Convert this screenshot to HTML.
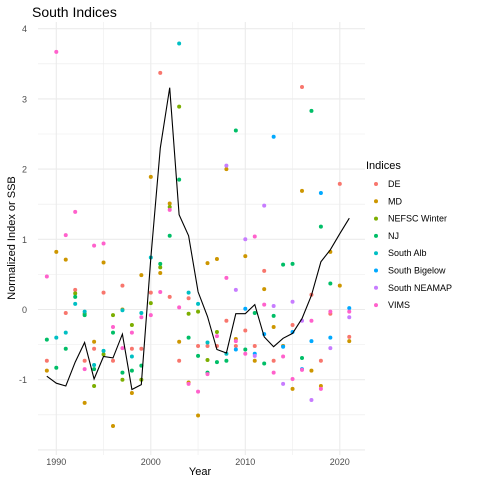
<!DOCTYPE html>
<html><head><meta charset="utf-8"><style>
body{margin:0;background:#fff;font-family:"Liberation Sans",sans-serif}
svg text{font-family:"Liberation Sans",sans-serif}
</style></head><body>
<svg id="c" width="480" height="480" xmlns="http://www.w3.org/2000/svg"></svg>
<script>
const seriesNames=["DE","MD","NEFSC Winter","NJ","South Alb","South Bigelow","South NEAMAP","VIMS"];
const seriesColors=["#F8766D","#CD9600","#7CAE00","#00BE67","#00BFC4","#00A9FF","#C77CFF","#FF61CC"];
const deData=[[1989,-0.73],[1991,-0.05],[1992,0.28],[1993,-0.73],[1994,-0.56],[1995,0.24],[1996,-0.73],[1997,0.34],[1998,-0.56],[1999,-0.56],[2000,0.24],[2001,3.37],[2002,0.18],[2003,-0.73],[2004,0.16],[2005,-0.52],[2006,-0.52],[2007,-0.52],[2008,-0.16],[2009,-0.52],[2010,-0.30],[2011,-0.52],[2012,0.55],[2013,-0.73],[2014,-0.52],[2015,-0.22],[2016,3.17],[2017,0.21],[2018,-0.73],[2019,-0.06],[2020,1.79],[2021,-0.39]];
const mdData=[[1989,-0.87],[1990,0.82],[1991,0.71],[1993,-1.33],[1994,-0.46],[1995,0.67],[1996,-1.66],[1997,0.00],[1998,-1.19],[1999,0.49],[2000,1.89],[2001,0.52],[2002,1.51],[2003,-0.46],[2004,-1.04],[2005,-1.51],[2006,0.66],[2007,0.72],[2008,2.00],[2009,-0.42],[2010,0.76],[2011,-0.73],[2012,0.29],[2013,-0.25],[2014,-0.52],[2015,-1.13],[2016,1.69],[2017,-0.87],[2018,-1.09],[2019,0.82],[2020,0.34],[2021,-0.45]];
const nefscData=[[1992,0.23],[1993,-0.06],[1994,-1.09],[1995,-0.64],[1996,-0.08],[1997,-1.00],[1998,-0.22],[1999,-1.00],[2000,0.09],[2001,0.60],[2002,1.46],[2003,2.89],[2004,-0.06],[2005,-0.03],[2006,-0.72],[2007,-0.32]];
const njData=[[1989,-0.43],[1990,-0.83],[1991,-0.56],[1992,0.18],[1993,-0.08],[1994,-0.85],[1996,-0.33],[1997,-0.90],[1998,-0.87],[1999,-0.80],[2001,0.65],[2002,1.05],[2003,1.85],[2004,-0.40],[2005,-0.66],[2006,-0.90],[2007,-0.75],[2008,-0.73],[2009,2.55],[2010,-0.57],[2011,-0.05],[2012,-0.77],[2013,-0.09],[2014,0.64],[2015,0.65],[2016,-0.69],[2017,2.83],[2018,1.18],[2019,0.37]];
const albData=[[1990,-0.40],[1991,-0.33],[1992,0.08],[1993,-0.03],[1994,-0.79],[1995,-0.59],[1997,-0.01],[1998,-0.67],[1999,-0.05],[2000,0.74],[2003,3.79],[2004,0.24],[2005,0.08],[2006,-0.47],[2008,-0.63]];
const bigData=[[2009,-0.57],[2010,0.01],[2011,-0.63],[2012,-0.35],[2013,2.46],[2014,-0.53],[2015,-0.32],[2016,-0.85],[2017,-0.45],[2018,1.66],[2019,-0.40],[2021,0.02]];
const neamapData=[[2008,2.05],[2009,0.28],[2010,1.00],[2011,-0.66],[2012,1.48],[2013,0.05],[2014,-1.06],[2015,0.11],[2016,-0.16],[2017,-1.29],[2019,-0.55],[2021,-0.11]];
const vimsData=[[1989,0.47],[1990,3.67],[1991,1.06],[1992,1.39],[1993,-0.85],[1994,0.91],[1995,0.94],[1996,-0.25],[1997,-0.55],[1998,-0.33],[1999,-0.11],[2000,-0.08],[2001,0.25],[2002,1.42],[2003,0.03],[2004,-1.06],[2005,-1.17],[2006,-0.92],[2007,-0.38],[2008,0.45],[2009,-0.45],[2010,-0.63],[2011,1.04],[2012,0.07],[2013,-0.90],[2014,-0.67],[2015,-0.99],[2016,-0.86],[2017,-0.16],[2018,-1.13],[2019,-0.03],[2021,-0.03]];
const ssbYears=[1989,1990,1991,1992,1993,1994,1995,1996,1997,1998,1999,2000,2001,2002,2003,2004,2005,2006,2007,2008,2009,2010,2011,2012,2013,2014,2015,2016,2017,2018,2019,2020,2021];
const ssbValues=[-0.95,-1.05,-1.09,-0.75,-0.47,-0.99,-0.67,-0.69,-0.35,-1.14,-1.07,0.73,2.3,3.16,1.35,1.05,0.25,-0.1,-0.57,-0.62,-0.06,-0.06,0.07,-0.39,-0.53,-0.41,-0.34,-0.13,0.20,0.68,0.85,1.08,1.30];
const xTicks=[1990,2000,2010,2020];
const yTicks=[-1,0,1,2,3,4];
const allSeries=[deData,mdData,nefscData,njData,albData,bigData,neamapData,vimsData];

const L=38,R=365,T=22,B=455;
const x=v=>56.3+(v-1990)*9.45;
const y=v=>309.5-v*70.2;
const svg=document.getElementById('c');
const NS="http://www.w3.org/2000/svg";
function mk(tag,attrs,parent){const e=document.createElementNS(NS,tag);for(const k in attrs)e.setAttribute(k,attrs[k]);(parent||svg).appendChild(e);return e;}

const title=mk('text',{x:32,y:17,'font-size':14,fill:'#000'});title.textContent='South Indices';



const grid=mk('g',{});


for(let v=-2;v<=4;v+=0.5){const py=y(v);if(py<T||py>B)continue;const major=Number.isInteger(v);
 const l=mk('line',{x1:L,x2:R,y1:py,y2:py,stroke:'#EBEBEB','stroke-width':major?1.1:0.55},grid);
 }
for(let v=1985;v<=2025;v+=5){const px=x(v);if(px<L||px>R)continue;const major=v%10===0;
 const l=mk('line',{x1:px,x2:px,y1:T,y2:B,stroke:'#EBEBEB','stroke-width':major?1.1:0.55},grid);
 }

yTicks.forEach(v=>{const t=mk('text',{x:27,y:y(v)+3.5,'font-size':9,fill:'#4D4D4D','text-anchor':'end'});t.textContent=v;
 });
xTicks.forEach(v=>{const t=mk('text',{x:x(v),y:465,'font-size':9,fill:'#4D4D4D','text-anchor':'middle'});t.textContent=v;
 });
const xt=mk('text',{x:200,y:475,'font-size':11,fill:'#000','text-anchor':'middle'});xt.textContent='Year';

const yt=mk('text',{x:0,y:0,'font-size':11,fill:'#000','text-anchor':'middle',transform:'translate(15,238) rotate(-90)'});yt.textContent='Normalized Index or SSB';


allSeries.forEach((data,i)=>{const g=mk('g',{fill:seriesColors[i]});
 
 
 data.forEach(d=>{const c=mk('circle',{cx:x(d[0]),cy:y(d[1]),r:2},g);
  
  });});

const pts=ssbYears.map((yr,i)=>x(yr).toFixed(1)+','+y(ssbValues[i]).toFixed(1)).join(' ');
const line=mk('polyline',{points:pts,fill:'none',stroke:'#000','stroke-width':1.1});



const lg=mk('g',{});


const lt=mk('text',{x:366,y:169,'font-size':11,fill:'#000'},lg);lt.textContent='Indices';

seriesNames.forEach((n,i)=>{const yy=184+i*17.3;
 const e=mk('g',{},lg);
 
 
 mk('circle',{cx:376,cy:yy,r:2,fill:seriesColors[i]},e);
 const t=mk('text',{x:388,y:yy+3,'font-size':9,fill:'#000'},e);t.textContent=n;});
</script>
</body></html>
